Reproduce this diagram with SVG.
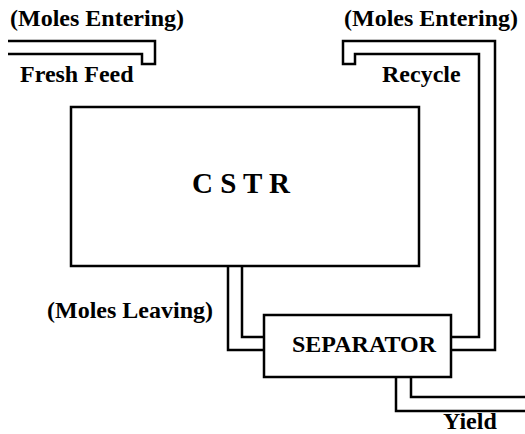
<svg xmlns="http://www.w3.org/2000/svg" width="525" height="434" viewBox="0 0 525 434">
<style>
.box{fill:#fff;stroke:#000;stroke-width:2.5}
.pipe{fill:none;stroke:#000;stroke-width:2.5;stroke-linejoin:miter}
text{font-family:"Liberation Serif","Times New Roman",serif;font-weight:bold;fill:#000;font-size:24px}
</style>
<rect width="525" height="434" fill="#fff"/>
<g id="connectors">
<g id="fresh-feed">
<polyline class="pipe" points="8,41 155,41 155,64 142,64 142,54 8,54"/>
</g>
<g id="cstr-outlet">
<polyline class="pipe" points="228,266 228,350 264,350"/>
<polyline class="pipe" points="242,266 242,337 264,337"/>
</g>
<g id="recycle">
<polyline class="pipe" points="451,350 495,350 495,41 343,41 343,64 355,64 355,54 479,54 479,337 451,337"/>
</g>
<g id="yield">
<polyline class="pipe" points="396,377 396,411 526,411"/>
<polyline class="pipe" points="411,377 411,397 526,397"/>
</g>
</g>
<g id="cstr">
<rect class="box" x="71" y="107" width="348" height="159"/>
<text x="192" y="193" style="font-size:29px">C S T R</text>
</g>
<g id="separator">
<rect class="box" x="264" y="315" width="187" height="62"/>
<text x="292" y="351.5">SEPARATOR</text>
</g>
<g id="labels">
<text x="10" y="26">(Moles Entering)</text>
<text x="20" y="82">Fresh Feed</text>
<text x="344" y="26">(Moles Entering)</text>
<text x="382" y="82">Recycle</text>
<text x="47" y="318">(Moles Leaving)</text>
<text x="443" y="429">Yield</text>
</g>
</svg>
